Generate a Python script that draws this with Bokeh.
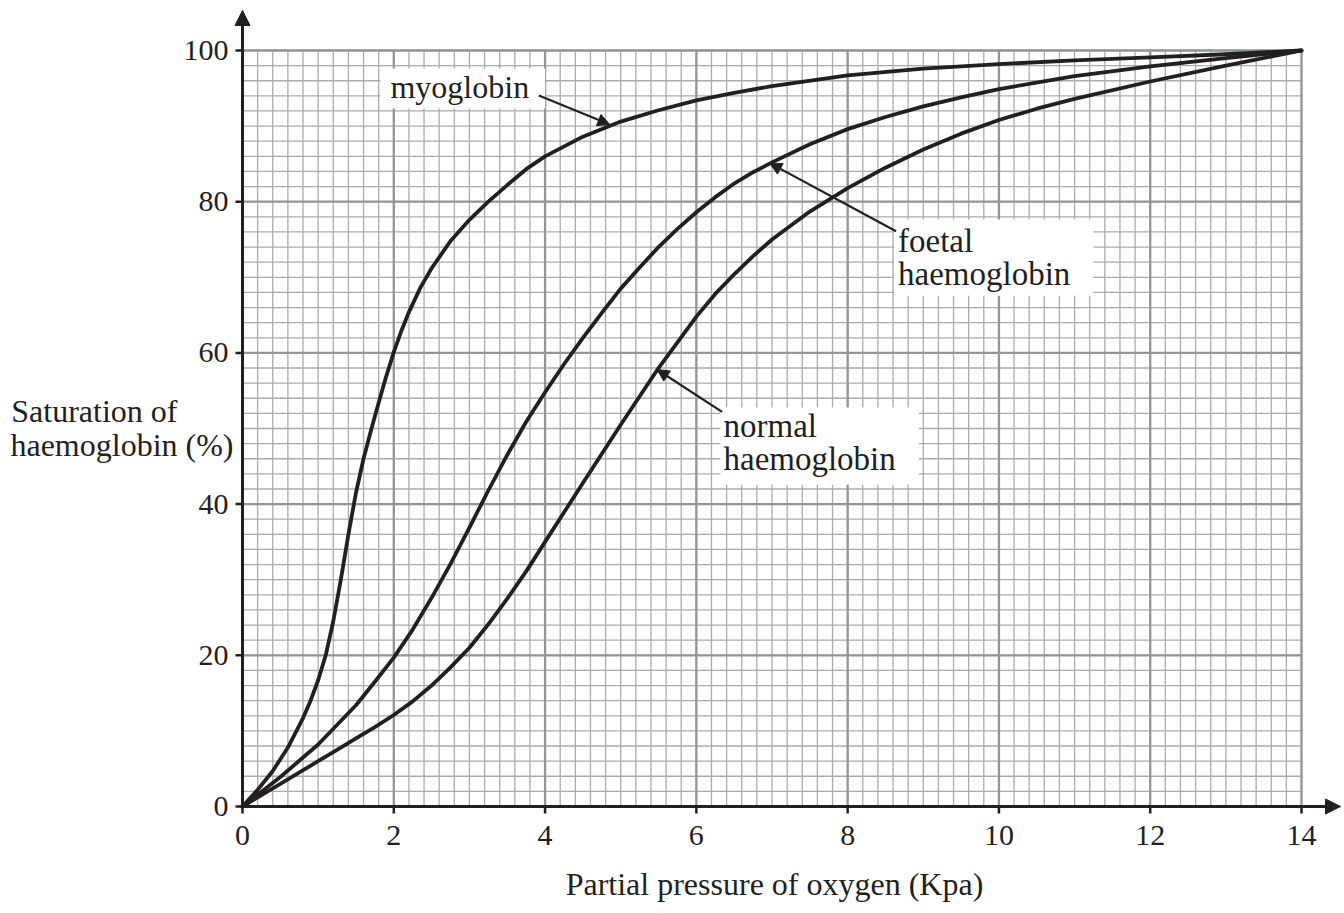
import numpy as np
from bokeh.plotting import figure
from bokeh.models import FixedTicker, Label, Arrow, NormalHead
from bokeh.embed import file_html
from bokeh.resources import INLINE

# ---- data ----
myo_x = [0, 0.2, 0.4, 0.6, 0.8, 0.9, 1.0, 1.1, 1.2, 1.3, 1.4, 1.5, 1.6, 1.7, 1.8, 1.9, 2.0,
         2.1, 2.2, 2.35, 2.5, 2.75, 3.0, 3.25, 3.5, 3.75, 4.0, 4.5, 5.0, 5.5, 6.0, 6.5, 7.0,
         8.0, 9.0, 10.0, 11.0, 12.0, 13.0, 14.0]
myo_y = [0, 2.2, 4.7, 7.8, 11.7, 14.0, 16.7, 20.0, 24.5, 30.0, 36.0, 41.5, 46.0, 49.8, 53.4,
         56.9, 60.1, 62.9, 65.4, 68.6, 71.2, 74.8, 77.6, 80.0, 82.2, 84.3, 86.0, 88.6, 90.6,
         92.1, 93.4, 94.4, 95.3, 96.7, 97.6, 98.2, 98.7, 99.1, 99.5, 100]

foetal_x = [0, 0.5, 1.0, 1.5, 1.75, 2.0, 2.25, 2.5, 2.75, 3.0, 3.25, 3.5, 3.75, 4.0, 4.25,
            4.5, 4.75, 5.0, 5.25, 5.5, 5.75, 6.0, 6.25, 6.5, 6.75, 7.0, 7.5, 8.0, 8.5, 9.0,
            9.5, 10.0, 11.0, 12.0, 13.0, 14.0]
foetal_y = [0, 3.9, 8.2, 13.4, 16.5, 19.7, 23.4, 27.6, 32.1, 36.9, 41.8, 46.5, 50.9, 54.8,
            58.5, 62.0, 65.3, 68.5, 71.3, 74.0, 76.4, 78.6, 80.6, 82.4, 83.9, 85.2, 87.6, 89.6,
            91.2, 92.6, 93.8, 94.9, 96.6, 97.9, 99.0, 100]

normal_x = [0, 0.5, 1.0, 1.25, 1.5, 1.75, 2.0, 2.25, 2.5, 2.75, 3.0, 3.25, 3.5, 3.75, 4.0,
            4.5, 5.0, 5.5, 6.0, 6.25, 6.5, 6.75, 7.0, 7.5, 8.0, 8.5, 9.0, 9.5, 10.0, 10.5,
            11.0, 12.0, 13.0, 14.0]
normal_y = [0, 3.0, 6.0, 7.5, 9.0, 10.5, 12.1, 13.9, 16.0, 18.4, 21.0, 24.1, 27.5, 31.1, 35.0,
            42.8, 50.5, 58.0, 64.8, 67.8, 70.4, 72.8, 75.0, 78.7, 81.8, 84.5, 86.9, 89.0, 90.8,
            92.3, 93.6, 95.9, 98.0, 100]

x_ticks = [0, 2, 4, 6, 8, 10, 12, 14]
y_ticks = [0, 20, 40, 60, 80, 100]
x_title = "Partial pressure of oxygen (Kpa)"
y_title = "Saturation of\nhaemoglobin (%)"

# curve labels: text, box top-left (data), font size, padding, arrow start, arrow tip
labels = [
    ("myoglobin", 1.824, 97.62, "32px", dict(left=10, right=16, top=1, bottom=3),
     (3.917, 94.05), (4.856, 90.2)),
    ("foetal\nhaemoglobin", 8.613, 77.64, "33px", dict(left=4, right=23, top=3, bottom=4),
     (8.64, 76.1), (6.97, 85.1)),
    ("normal\nhaemoglobin", 6.319, 52.77, "33px", dict(left=3, right=23, top=0, bottom=8),
     (6.34, 52.2), (5.48, 57.8)),
]

FONT = "Liberation Serif"
INK = "#231f20"
MINOR = "#a9abae"
MAJOR = "#939598"

# frame is larger than the 0..14 x 0..100 paper so the axis arrows fit inside it
X0, X1 = -0.4495, 14.5155
Y0, Y1 = -5.1587, 105.29

p = figure(width=1342, height=909, x_range=(X0, X1), y_range=(Y0, Y1),
           output_backend="svg", toolbar_location=None,
           min_border_left=208, min_border_right=2, min_border_top=10, min_border_bottom=64)
p.background_fill_color = "white"
p.border_fill_color = "white"
p.outline_line_color = None
p.xgrid.visible = False
p.ygrid.visible = False

# ---- graph-paper grid ----
xmax, ymax = x_ticks[-1], y_ticks[-1]
xminor = np.round(np.arange(0, xmax + 1e-9, 0.2), 3)
yminor = np.arange(0, ymax + 1e-9, 2.0)
p.segment(x0=xminor, y0=0, x1=xminor, y1=ymax, line_color=MINOR, line_width=1.3)
p.segment(x0=0, y0=yminor, x1=xmax, y1=yminor, line_color=MINOR, line_width=1.3)
p.segment(x0=x_ticks, y0=0, x1=x_ticks, y1=ymax, line_color=MAJOR, line_width=2.3)
p.segment(x0=0, y0=y_ticks, x1=xmax, y1=y_ticks, line_color=MAJOR, line_width=2.3)

# ---- axes: labels from Bokeh axes; axis lines / ticks drawn at the data zero ----
p.xaxis.ticker = FixedTicker(ticks=x_ticks)
p.yaxis.ticker = FixedTicker(ticks=y_ticks)
for ax in (p.xaxis, p.yaxis):
    ax.axis_line_color = None
    ax.major_tick_line_color = None
    ax.minor_tick_line_color = None
    ax.major_tick_out = 0
    ax.major_tick_in = 0
    ax.major_label_text_font = FONT
    ax.major_label_text_font_size = "30px"
    ax.major_label_text_color = INK
    ax.axis_label_text_font = FONT
    ax.axis_label_text_font_size = "32px"
    ax.axis_label_text_font_style = "normal"
    ax.axis_label_text_color = INK
p.xaxis.major_label_standoff = -20
p.yaxis.major_label_standoff = -20

p.xaxis.axis_label = x_title
p.xaxis.axis_label_standoff = 18

# y title: horizontal, lines left-aligned (axis labels right-align, so pad line 1)
yl = y_title.split("\n")
p.yaxis.axis_label = yl[0] + "\u00a0" * 7 + "\n" + yl[1]
p.yaxis.axis_label_orientation = "horizontal"
p.yaxis.axis_label_text_line_height = 0.94
p.yaxis.axis_label_standoff = -53

tick_dx = 7 / 75.643
tick_dy = 7 / 7.56
p.segment(x0=x_ticks, y0=0, x1=x_ticks, y1=-tick_dy, line_color=INK, line_width=2.5)
p.segment(x0=0, y0=y_ticks, x1=-tick_dx, y1=y_ticks, line_color=INK, line_width=2.5)

# ---- curves ----
for xs, ys in ((myo_x, myo_y), (foetal_x, foetal_y), (normal_x, normal_y)):
    p.line(xs, ys, line_color=INK, line_width=3.8, line_join="round", line_cap="round")

# ---- axis arrows ----
p.add_layout(Arrow(x_start=0, y_start=0, x_end=0, y_end=Y1, line_color=INK, line_width=3,
                   end=NormalHead(size=15, fill_color=INK, line_color=INK, line_width=1)))
p.add_layout(Arrow(x_start=0, y_start=0, x_end=X1, y_end=0, line_color=INK, line_width=3,
                   end=NormalHead(size=15, fill_color=INK, line_color=INK, line_width=1)))

# ---- curve labels + arrows ----
for text, tx, ty, fs, pad, (sx, sy), (ex, ey) in labels:
    p.add_layout(Label(x=tx, y=ty, text=text, text_font=FONT, text_font_size=fs,
                       text_color=INK, text_align="left", text_baseline="top",
                       text_line_height=0.92,
                       background_fill_color="white", background_fill_alpha=1.0,
                       padding=pad))
    p.add_layout(Arrow(x_start=sx, y_start=sy, x_end=ex, y_end=ey,
                       line_color=INK, line_width=2.2,
                       end=NormalHead(size=12, fill_color=INK, line_color=INK, line_width=1)))

open("out.html", "w").write(file_html(p, INLINE))
